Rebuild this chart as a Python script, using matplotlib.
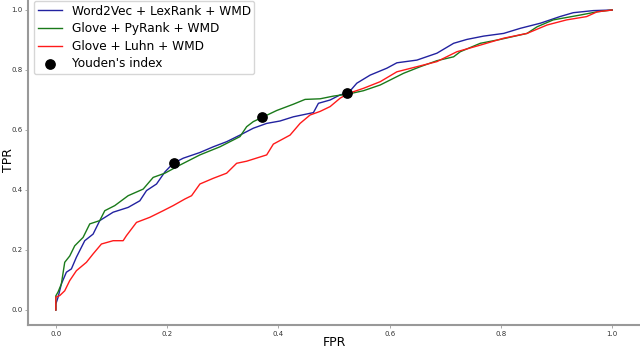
import matplotlib
matplotlib.use("Agg")
import matplotlib.pyplot as plt

# Word2Vec + LexRank + WMD
blue_fpr = [0.0, 0.0, 0.004, 0.010, 0.019, 0.028, 0.037, 0.052, 0.067, 0.079, 0.103, 0.130, 0.151, 0.163, 0.181, 0.196,
            0.211, 0.229, 0.259, 0.283, 0.307, 0.331, 0.355, 0.379, 0.403, 0.427, 0.463, 0.472, 0.493, 0.511, 0.526,
            0.541, 0.565, 0.595, 0.613, 0.649, 0.685, 0.715, 0.739, 0.769, 0.805, 0.835, 0.871, 0.906, 0.930, 0.966, 1.0]
blue_tpr = [0.0, 0.02, 0.042, 0.087, 0.126, 0.137, 0.176, 0.231, 0.253, 0.298, 0.326, 0.342, 0.364, 0.398, 0.420, 0.460,
            0.489, 0.506, 0.525, 0.544, 0.561, 0.583, 0.606, 0.622, 0.630, 0.644, 0.658, 0.689, 0.700, 0.717, 0.724,
            0.756, 0.783, 0.806, 0.824, 0.833, 0.856, 0.889, 0.902, 0.913, 0.922, 0.939, 0.956, 0.978, 0.991, 0.998, 1.0]

# Glove + PyRank + WMD
green_fpr = [0.0, 0.0, 0.004, 0.010, 0.016, 0.025, 0.034, 0.049, 0.061, 0.079, 0.088, 0.106, 0.130, 0.157, 0.175, 0.196,
             0.223, 0.259, 0.295, 0.331, 0.343, 0.355, 0.371, 0.397, 0.427, 0.448, 0.475, 0.499, 0.526, 0.553, 0.583,
             0.625, 0.655, 0.685, 0.715, 0.727, 0.763, 0.799, 0.847, 0.865, 0.894, 0.942, 0.973, 1.0]
green_tpr = [0.0, 0.047, 0.060, 0.087, 0.159, 0.180, 0.214, 0.242, 0.287, 0.298, 0.331, 0.348, 0.381, 0.403, 0.442, 0.456,
             0.483, 0.517, 0.544, 0.578, 0.611, 0.628, 0.642, 0.665, 0.686, 0.702, 0.704, 0.713, 0.720, 0.731, 0.750,
             0.789, 0.811, 0.831, 0.844, 0.861, 0.889, 0.902, 0.922, 0.944, 0.967, 0.983, 0.994, 1.0]

# Glove + Luhn + WMD
red_fpr = [0.0, 0.0, 0.007, 0.016, 0.025, 0.037, 0.055, 0.067, 0.082, 0.103, 0.121, 0.127, 0.145, 0.169, 0.193, 0.211,
           0.232, 0.244, 0.259, 0.283, 0.307, 0.325, 0.343, 0.379, 0.391, 0.421, 0.439, 0.457, 0.475, 0.493, 0.511,
           0.526, 0.553, 0.583, 0.613, 0.649, 0.685, 0.721, 0.763, 0.805, 0.847, 0.883, 0.918, 0.954, 0.973, 1.0]
red_tpr = [0.0, 0.043, 0.048, 0.064, 0.098, 0.131, 0.159, 0.187, 0.220, 0.231, 0.231, 0.248, 0.292, 0.309, 0.331, 0.348,
           0.370, 0.381, 0.420, 0.439, 0.456, 0.489, 0.496, 0.517, 0.553, 0.583, 0.622, 0.650, 0.662, 0.678, 0.706,
           0.722, 0.739, 0.761, 0.794, 0.811, 0.828, 0.861, 0.883, 0.906, 0.922, 0.950, 0.967, 0.978, 0.994, 1.0]

# Youden's index points
youden_fpr = [0.212, 0.371, 0.524]
youden_tpr = [0.489, 0.642, 0.723]

ticks = [0.0, 0.2, 0.4, 0.6, 0.8, 1.0]

fig = plt.figure(figsize=(6.4, 3.48), dpi=100)
ax = fig.add_axes([28 / 640, 23 / 348, 612 / 640, 330 / 348])

ax.plot(blue_fpr, blue_tpr, color="#2222a0", lw=1.0, label="Word2Vec + LexRank + WMD")
ax.plot(green_fpr, green_tpr, color="#1a7a1a", lw=1.0, label="Glove + PyRank + WMD")
ax.plot(red_fpr, red_tpr, color="#ff1a1a", lw=1.0, label="Glove + Luhn + WMD")
ax.scatter(youden_fpr, youden_tpr, color="black", s=45, zorder=5, label="Youden's index")

ax.set_xlim(-0.05, 1.05)
ax.set_ylim(-0.05, 1.05)
ax.set_xticks(ticks)
ax.set_yticks(ticks)
ax.set_xticklabels([f"{t:.1f}" for t in ticks])
ax.set_yticklabels([f"{t:.1f}" for t in ticks])
ax.tick_params(labelsize=5, length=2, width=0.6, color="#999999", labelcolor="#333333", pad=2)

for s in ["top", "right"]:
    ax.spines[s].set_visible(False)
for s in ["left", "bottom"]:
    ax.spines[s].set_color("#999999")
    ax.spines[s].set_linewidth(1.5)

ax.set_xlabel("FPR", fontsize=9, va="center")
ax.set_ylabel("TPR", fontsize=9, va="center")
ax.xaxis.set_label_coords((334 - 28) / 612, -(342 - 325) / 330)
ax.yaxis.set_label_coords((9 - 28) / 612, (325 - 160) / 330)

ax.legend(loc="upper left", fontsize=8.7, handlelength=2.0, labelspacing=0.38,
          borderpad=0.3, handletextpad=0.8)

fig.savefig("out.png", dpi=100)
